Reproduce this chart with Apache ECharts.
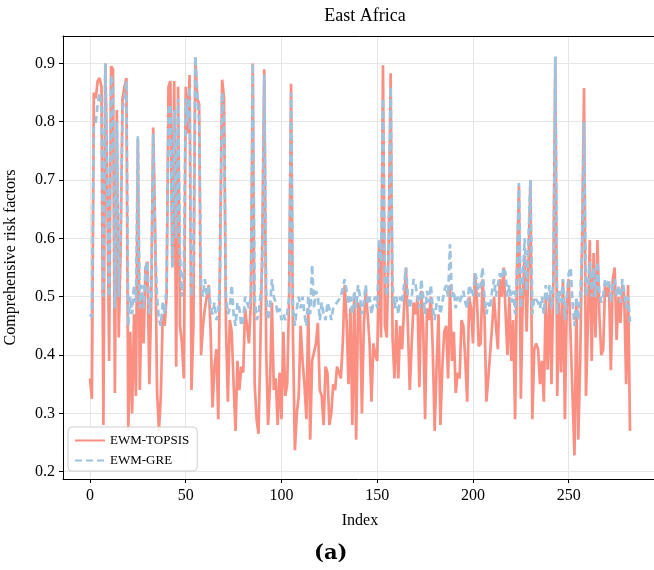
<!DOCTYPE html>
<html>
<head>
<meta charset="utf-8">
<script src="https://cdn.jsdelivr.net/npm/echarts@6/dist/echarts.min.js"></script>
<style>
html,body{margin:0;padding:0;background:#fff;}
#chart{width:654px;height:570px;}
</style>
</head>
<body>
<div id="chart"></div>
<script>
const titleText = "East Africa";
const xName = "Index";
const yName = "Comprehensive risk factors";
const subLabel = "(a)";
const xTicks = [0, 50, 100, 150, 200, 250];
const yTicks = [0.2, 0.3, 0.4, 0.5, 0.6, 0.7, 0.8, 0.9];
const seriesNames = ["EWM-TOPSIS", "EWM-GRE"];

const topsis = [
0.36,0.325,0.85,0.84,0.87,0.875,0.86,0.28,0.90,0.70,
0.39,0.895,0.89,0.335,0.82,0.43,0.58,0.84,0.86,0.875,
0.27,0.44,0.30,0.47,0.33,0.77,0.34,0.50,0.42,0.55,
0.56,0.35,0.50,0.79,0.62,0.34,0.27,0.33,0.47,0.45,
0.50,0.86,0.87,0.55,0.87,0.38,0.86,0.45,0.42,0.36,
0.86,0.78,0.88,0.34,0.45,0.91,0.84,0.83,0.40,0.45,
0.48,0.50,0.52,0.44,0.31,0.38,0.41,0.29,0.60,0.872,
0.84,0.45,0.32,0.46,0.44,0.35,0.27,0.39,0.34,0.38,
0.37,0.48,0.45,0.42,0.49,0.90,0.35,0.29,0.265,0.42,
0.60,0.89,0.41,0.28,0.35,0.49,0.34,0.36,0.28,0.37,
0.29,0.44,0.33,0.35,0.50,0.865,0.43,0.237,0.30,0.33,
0.45,0.39,0.35,0.29,0.48,0.255,0.39,0.39,0.42,0.455,
0.34,0.33,0.28,0.38,0.37,0.28,0.30,0.35,0.34,0.38,
0.38,0.36,0.42,0.52,0.46,0.35,0.48,0.28,0.505,0.255,
0.49,0.48,0.30,0.45,0.51,0.47,0.42,0.32,0.42,0.40,
0.39,0.59,0.43,0.897,0.45,0.43,0.60,0.883,0.43,0.36,
0.46,0.36,0.45,0.41,0.48,0.55,0.45,0.34,0.42,0.49,
0.47,0.50,0.345,0.51,0.45,0.29,0.48,0.46,0.50,0.41,
0.27,0.38,0.47,0.28,0.38,0.44,0.45,0.36,0.52,0.39,
0.44,0.335,0.37,0.36,0.46,0.45,0.39,0.32,0.50,0.48,
0.42,0.54,0.50,0.415,0.42,0.53,0.47,0.32,0.36,0.36,
0.45,0.50,0.45,0.41,0.53,0.50,0.55,0.55,0.40,0.50,
0.39,0.46,0.29,0.55,0.69,0.325,0.50,0.57,0.44,0.56,
0.70,0.29,0.41,0.42,0.41,0.35,0.39,0.32,0.50,0.375,
0.50,0.35,0.53,0.91,0.33,0.49,0.37,0.53,0.29,0.49,
0.53,0.53,0.33,0.228,0.49,0.255,0.39,0.60,0.858,0.33,
0.45,0.597,0.39,0.575,0.43,0.597,0.47,0.40,0.41,0.52,
0.50,0.52,0.374,0.53,0.55,0.426,0.50,0.455,0.52,0.50,
0.35,0.52,0.27
];

const gre = [
0.47,0.465,0.79,0.80,0.83,0.85,0.82,0.50,0.90,0.70,
0.50,0.88,0.86,0.48,0.80,0.50,0.62,0.82,0.84,0.87,
0.45,0.50,0.47,0.52,0.49,0.775,0.48,0.52,0.48,0.55,
0.56,0.47,0.50,0.78,0.60,0.50,0.46,0.45,0.49,0.47,
0.52,0.82,0.83,0.55,0.82,0.60,0.84,0.57,0.50,0.55,
0.84,0.80,0.86,0.50,0.55,0.912,0.85,0.80,0.52,0.50,
0.53,0.50,0.52,0.48,0.47,0.49,0.46,0.47,0.55,0.85,
0.80,0.50,0.47,0.48,0.52,0.47,0.45,0.49,0.48,0.45,
0.46,0.50,0.49,0.48,0.50,0.90,0.50,0.46,0.47,0.50,
0.55,0.88,0.51,0.46,0.48,0.53,0.50,0.49,0.47,0.48,
0.46,0.47,0.46,0.47,0.50,0.85,0.48,0.45,0.48,0.50,
0.48,0.50,0.47,0.45,0.50,0.47,0.555,0.48,0.51,0.50,
0.46,0.49,0.47,0.46,0.49,0.48,0.46,0.48,0.48,0.49,
0.49,0.50,0.50,0.53,0.51,0.49,0.50,0.47,0.51,0.48,
0.52,0.50,0.47,0.49,0.52,0.49,0.50,0.47,0.49,0.50,
0.48,0.60,0.56,0.84,0.53,0.50,0.58,0.86,0.52,0.48,
0.50,0.47,0.50,0.49,0.52,0.55,0.50,0.48,0.50,0.53,
0.52,0.52,0.48,0.53,0.50,0.47,0.51,0.49,0.52,0.48,
0.46,0.49,0.50,0.47,0.49,0.51,0.52,0.50,0.59,0.50,
0.51,0.48,0.50,0.49,0.50,0.51,0.49,0.48,0.52,0.51,
0.50,0.54,0.53,0.50,0.52,0.55,0.50,0.47,0.49,0.48,
0.51,0.53,0.50,0.52,0.54,0.53,0.55,0.54,0.50,0.52,
0.49,0.51,0.47,0.55,0.695,0.48,0.53,0.60,0.51,0.60,
0.70,0.47,0.50,0.50,0.49,0.48,0.50,0.47,0.52,0.49,
0.52,0.48,0.53,0.912,0.47,0.51,0.49,0.53,0.46,0.50,
0.54,0.55,0.49,0.45,0.50,0.46,0.50,0.58,0.80,0.50,
0.52,0.56,0.50,0.55,0.50,0.56,0.51,0.49,0.50,0.53,
0.52,0.53,0.49,0.52,0.53,0.50,0.52,0.49,0.53,0.51,
0.48,0.50,0.457
];

const FONT = '"Liberation Serif", "DejaVu Serif", serif';
const chart = echarts.init(document.getElementById('chart'), null, {renderer: 'canvas'});
const toPairs = arr => arr.map((v, i) => [i, v]);

chart.setOption({
  animation: false,
  backgroundColor: '#fff',
  title: {
    text: titleText, left: 360, top: 2, textAlign: 'center',
    textStyle: {fontFamily: FONT, fontSize: 18, fontWeight: 'normal', color: '#000'}
  },
  grid: {left: 63, top: 36, width: 594, height: 443, show: false, containLabel: false, outerBoundsMode: 'none'},
  legend: {
    orient: 'vertical', left: 68, top: 427,
    data: seriesNames,
    itemWidth: 30, itemHeight: 14, itemGap: 7,
    padding: [7, 8, 4, 6],
    itemStyle: {opacity: 0},
    backgroundColor: 'rgba(255,255,255,0.85)',
    borderColor: '#d0d0d0', borderWidth: 1, borderRadius: 4,
    textStyle: {fontFamily: FONT, fontSize: 13, color: '#000'}
  },
  xAxis: [{
    type: 'value', min: -14.1, max: 296.1,
    name: xName, nameLocation: 'middle', nameGap: 34,
    nameTextStyle: {fontFamily: FONT, fontSize: 16, color: '#000'},
    axisLine: {show: true, onZero: false, lineStyle: {color: '#000', width: 1}},
    axisTick: {show: true, length: 4, customValues: xTicks, lineStyle: {color: '#000'}},
    axisLabel: {customValues: xTicks, fontFamily: FONT, fontSize: 16, color: '#000', margin: 9},
    splitLine: {show: true, lineStyle: {color: '#e6e6e6', width: 1}}
  }, {
    type: 'value', position: 'top', min: -14.1, max: 296.1,
    axisLine: {show: true, onZero: false, lineStyle: {color: '#000', width: 1}},
    axisTick: {show: false}, axisLabel: {show: false}, splitLine: {show: false}
  }],
  yAxis: {
    type: 'value', min: 0.1875, max: 0.947,
    name: yName, nameLocation: 'middle', nameGap: 44, nameRotate: 90,
    nameTextStyle: {fontFamily: FONT, fontSize: 16, color: '#000'},
    axisLine: {show: true, onZero: false, lineStyle: {color: '#000', width: 1}},
    axisTick: {show: true, length: 4, customValues: yTicks, lineStyle: {color: '#000'}},
    axisLabel: {customValues: yTicks, fontFamily: FONT, fontSize: 16, color: '#000', margin: 8,
      formatter: v => v.toFixed(1)},
    splitLine: {show: true, lineStyle: {color: '#e6e6e6', width: 1}}
  },
  series: [
    {
      name: seriesNames[0], type: 'line', data: toPairs(topsis), xAxisIndex: 0,
      showSymbol: false, symbol: 'none',
      lineStyle: {color: '#FA8F82', width: 2.7}, itemStyle: {color: '#FA8F82'}, z: 2
    },
    {
      name: seriesNames[1], type: 'line', data: toPairs(gre), xAxisIndex: 0,
      showSymbol: false, symbol: 'none',
      lineStyle: {color: '#9DC3DF', width: 2.7, type: [7, 4]}, itemStyle: {color: '#9DC3DF'}, z: 3
    }
  ],
  graphic: [{
    type: 'text', left: 314, top: 543,
    style: {text: subLabel, font: 'bold 21px "DejaVu Serif", serif', fill: '#000'}
  }]
});
</script>
</body>
</html>
